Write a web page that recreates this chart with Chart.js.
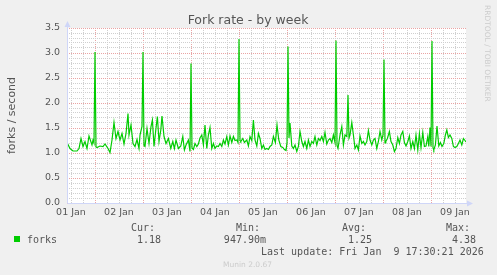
<!DOCTYPE html>
<html>
<head>
<meta charset="utf-8">
<script src="https://cdn.jsdelivr.net/npm/chart.js@4.4.0/dist/chart.umd.min.js"></script>
<style>
  html, body { margin: 0; padding: 0; background: #f0f0f0; }
  canvas { display: block; }
</style>
</head>
<body>
<canvas id="forkChart" width="497" height="275"></canvas>
<script>
// hours since 01 Jan 00:00, and fork rate
const hours = [
  10, 11.5, 13, 15, 16, 17, 18, 19, 20, 21, 22.5, 23, 23.5, 24, 24.5, 25, 26.5, 28, 29, 30.5,
  31.5, 32.5, 33.5, 34.5, 35.5, 36.5, 37.5, 38.5, 39.5, 40.5, 41, 42, 43, 44, 45, 46, 46.5, 47.5, 48, 48.5,
  49, 50, 51, 52, 52.7, 53.5, 54.4, 55.2, 56, 56.9, 57.5, 58.5, 59.5, 60.7, 61.9, 62.9, 63.7, 64.5, 65.7, 66.9,
  67.9, 68.7, 69.5, 70.7, 71.5, 72, 72.5, 73.2, 74, 74.9, 75.7, 76.5, 77.4, 78.2, 79, 79.9, 80.7, 81.5, 82.4, 83.2,
  84, 84.9, 85.7, 86.5, 87.4, 88.2, 89, 89.9, 90.7, 91.5, 92.4, 93.2, 94, 94.9, 95.5, 96, 96.5, 96.9, 97.9, 98.7,
  99.9, 100.7, 101.5, 102.4, 103.2, 104, 104.9, 105.7, 106.5, 107.4, 108.2, 109, 109.9, 110.7, 111.5, 112.4, 113.2, 114.2, 115, 115.9,
  116.9, 117.9, 118.7, 119.5, 120, 120.5, 121, 121.5, 122.4, 123.2, 124, 124.9, 125.7, 126.5, 127.4, 128.2, 129, 129.9, 130.7, 131.5,
  132.4, 133.2, 134, 134.9, 135.7, 136.5, 137.4, 138.2, 139, 139.9, 140.7, 141.5, 142.4, 143.2, 144, 144.5, 145, 145.5, 146.5, 147.4,
  148.2, 149, 149.9, 150.5, 151, 151.5, 152.4, 153.2, 154, 154.9, 155.7, 156.5, 157.4, 158.2, 159, 159.9, 160.7, 161.5, 162.4, 163.2,
  164, 164.9, 165.7, 166.5, 167.4, 168, 168.5, 169, 169.4, 170.2, 171.2, 172, 172.9, 173.7, 174.5, 175.4, 176.2, 177, 177.9, 178.7,
  179.5, 180.4, 181.2, 182, 182.9, 183.7, 184.5, 185.4, 186.2, 187, 187.9, 188.7, 189.5, 190.4, 190.9, 191.5, 192, 192.5, 193, 193.4,
  194.2, 195, 195.9, 196.7, 197.5, 198.4, 199.2, 199.9, 200.7, 201.5, 202.4, 203.2, 204, 204.9, 205.7, 206.5, 207.4, 208.2, 209, 209.5
];
const forks = [
  1.21, 1.09, 1.04, 1.04, 1.09, 1.29, 1.13, 1.23, 1.09, 1.34, 1.16, 1.26, 1.20, 3.02, 1.12, 1.11, 1.14, 1.13, 1.18, 1.09,
  1.01, 1.26, 1.61, 1.29, 1.43, 1.26, 1.39, 1.18, 1.39, 1.79, 1.36, 1.56, 1.19, 1.13, 1.27, 1.09, 1.36, 1.53, 3.02, 1.15,
  1.13, 1.49, 1.19, 1.53, 1.66, 1.13, 1.46, 1.73, 1.23, 1.46, 1.74, 1.33, 1.19, 1.29, 1.09, 1.23, 1.09, 1.26, 1.09, 1.14,
  1.33, 1.06, 1.16, 1.26, 1.03, 2.79, 1.10, 1.07, 1.19, 1.13, 1.18, 1.30, 1.36, 1.16, 1.56, 1.09, 1.36, 1.51, 1.09, 1.19,
  1.09, 1.14, 1.13, 1.19, 1.13, 1.26, 1.18, 1.33, 1.16, 1.34, 1.21, 1.33, 1.25, 1.26, 1.21, 3.28, 1.25, 1.23, 1.29, 1.21,
  1.26, 1.14, 1.33, 1.25, 1.66, 1.26, 1.14, 1.39, 1.29, 1.09, 1.16, 1.07, 1.09, 1.07, 1.13, 1.16, 1.33, 1.21, 1.56, 1.26,
  1.13, 1.11, 1.07, 1.05, 1.21, 3.13, 1.30, 1.60, 1.14, 1.09, 1.16, 1.03, 1.13, 1.43, 1.23, 1.13, 1.23, 1.09, 1.26, 1.13,
  1.23, 1.19, 1.33, 1.16, 1.29, 1.25, 1.33, 1.23, 1.41, 1.18, 1.26, 1.29, 1.21, 1.36, 1.21, 3.25, 1.15, 1.09, 1.36, 1.53,
  1.16, 1.36, 1.33, 2.16, 1.30, 1.36, 1.61, 1.36, 1.09, 1.16, 1.06, 1.34, 1.19, 1.23, 1.16, 1.23, 1.45, 1.26, 1.16, 1.26,
  1.29, 1.09, 1.23, 1.43, 1.26, 1.36, 2.87, 1.20, 1.23, 1.29, 1.43, 1.23, 1.16, 1.03, 1.09, 1.31, 1.19, 1.36, 1.43, 1.21,
  1.14, 1.23, 1.34, 1.09, 1.23, 1.09, 1.36, 1.06, 1.39, 1.11, 1.41, 1.13, 1.14, 1.33, 1.13, 1.51, 1.13, 3.24, 1.10, 1.06,
  1.16, 1.54, 1.14, 1.21, 1.13, 1.19, 1.36, 1.46, 1.31, 1.36, 1.29, 1.13, 1.11, 1.13, 1.19, 1.26, 1.16, 1.29, 1.25, 1.22
];
const dayLabels = ['01 Jan', '02 Jan', '03 Jan', '04 Jan', '05 Jan', '06 Jan', '07 Jan', '08 Jan', '09 Jan'];
const legendStats = [
  { label: 'Cur:', value: '1.18', x: 131 },
  { label: 'Min:', value: '947.90m', x: 236 },
  { label: 'Avg:', value: '1.25', x: 342 },
  { label: 'Max:', value: '4.38', x: 446 }
];

const LINE_COLOR = '#00cc00';
const AXIS_COLOR = '#cfd6f8';
const MAJOR_GRID = '#eaa4a4';
const MINOR_GRID = '#cfcfcf';
const TEXT_COLOR = '#555555';

// white plot canvas behind the grid
const canvasBg = {
  id: 'canvasBg',
  beforeDraw(chart) {
    const a = chart.chartArea, ctx = chart.ctx;
    ctx.save();
    ctx.fillStyle = '#ffffff';
    ctx.fillRect(a.left, a.top, a.right - a.left, a.bottom - a.top);
    ctx.restore();
  }
};

// axes with arrows, titles and the rrdtool style legend
const munin = {
  id: 'munin',
  afterDraw(chart) {
    const ctx = chart.ctx, a = chart.chartArea;
    const x0 = a.left + 0.5, y0 = a.bottom + 0.5;
    ctx.save();
    ctx.strokeStyle = AXIS_COLOR;
    ctx.fillStyle = AXIS_COLOR;
    ctx.lineWidth = 1;
    ctx.beginPath();
    ctx.moveTo(x0, y0); ctx.lineTo(x0, a.top - 4);
    ctx.moveTo(x0, y0); ctx.lineTo(a.right + 4, y0);
    ctx.stroke();
    ctx.beginPath();
    ctx.moveTo(x0, a.top - 7); ctx.lineTo(x0 - 3, a.top - 1); ctx.lineTo(x0 + 3, a.top - 1);
    ctx.closePath(); ctx.fill();
    ctx.beginPath();
    ctx.moveTo(a.right + 7, y0); ctx.lineTo(a.right + 1, y0 - 3); ctx.lineTo(a.right + 1, y0 + 3);
    ctx.closePath(); ctx.fill();

    // title
    ctx.fillStyle = TEXT_COLOR;
    ctx.font = '12.5px "DejaVu Sans"';
    ctx.textAlign = 'center';
    ctx.textBaseline = 'alphabetic';
    ctx.fillText('Fork rate - by week', 248, 24);

    // vertical axis label
    ctx.save();
    ctx.translate(15, (a.top + a.bottom) / 2);
    ctx.rotate(-Math.PI / 2);
    ctx.font = '11px "DejaVu Sans"';
    ctx.fillText('forks / second', 0, 0);
    ctx.restore();

    // rrdtool watermark
    ctx.save();
    ctx.translate(485, 5);
    ctx.rotate(Math.PI / 2);
    ctx.textAlign = 'left';
    ctx.fillStyle = '#cccccc';
    ctx.font = '7.5px "DejaVu Sans"';
    ctx.fillText('RRDTOOL / TOBI OETIKER', 0, 0);
    ctx.restore();

    // legend
    ctx.fillStyle = LINE_COLOR;
    ctx.fillRect(14, 236, 6, 6);
    ctx.fillStyle = TEXT_COLOR;
    ctx.font = '10px "DejaVu Sans Mono"';
    ctx.textAlign = 'left';
    ctx.fillText('forks', 27, 243);
    legendStats.forEach(s => {
      ctx.fillText(s.label, s.x, 231);
      ctx.textAlign = 'right';
      ctx.fillText(s.value, s.x + 30, 243);
      ctx.textAlign = 'left';
    });
    ctx.fillText('Last update: Fri Jan  9 17:30:21 2026', 261, 255);

    ctx.fillStyle = '#cccccc';
    ctx.font = '7.5px "DejaVu Sans"';
    ctx.fillText('Munin 2.0.67', 223, 267);
    ctx.restore();
  }
};

const isMajorY = v => Math.round(v * 10) % 5 === 0;

new Chart(document.getElementById('forkChart'), {
  type: 'line',
  data: {
    datasets: [{
      label: 'forks',
      data: hours.map((h, i) => ({ x: h, y: forks[i] })),
      borderColor: LINE_COLOR,
      borderWidth: 1.2,
      pointRadius: 0,
      tension: 0,
      fill: false
    }]
  },
  options: {
    responsive: false,
    animation: false,
    devicePixelRatio: 1,
    layout: { padding: { left: 0, top: 28, right: 31, bottom: 52 } },
    plugins: {
      legend: { display: false },
      title: { display: false },
      tooltip: { enabled: false }
    },
    scales: {
      x: {
        type: 'linear',
        min: 10,
        max: 209.5,
        afterBuildTicks(scale) {
          const t = [];
          for (let h = 12; h <= scale.max; h += 6) t.push({ value: h });
          scale.ticks = t;
        },
        afterFit(scale) { scale.height = 20; },
        grid: {
          drawTicks: false,
          color: ctx => (ctx.tick && ctx.tick.value % 24 === 0) ? MAJOR_GRID : MINOR_GRID
        },
        border: { display: false, dash: [1, 1] },
        ticks: {
          autoSkip: false,
          maxRotation: 0,
          padding: 4,
          color: TEXT_COLOR,
          font: { family: 'DejaVu Sans', size: 9.5 },
          callback: v => (v % 24 === 12) ? dayLabels[(v - 12) / 24] : ''
        }
      },
      y: {
        type: 'linear',
        min: 0,
        max: 3.5,
        afterBuildTicks(scale) {
          const t = [];
          for (let i = 0; i <= 35; i++) t.push({ value: i / 10 });
          scale.ticks = t;
        },
        afterFit(scale) { scale.width = 67; },
        grid: {
          drawTicks: false,
          color: ctx => (ctx.tick && isMajorY(ctx.tick.value)) ? MAJOR_GRID : MINOR_GRID
        },
        border: { display: false, dash: [1, 1] },
        ticks: {
          autoSkip: false,
          padding: 7,
          color: TEXT_COLOR,
          font: { family: 'DejaVu Sans', size: 9.5 },
          callback: v => isMajorY(v) ? v.toFixed(1) : ''
        }
      }
    }
  },
  plugins: [canvasBg, munin]
});
</script>
</body>
</html>
